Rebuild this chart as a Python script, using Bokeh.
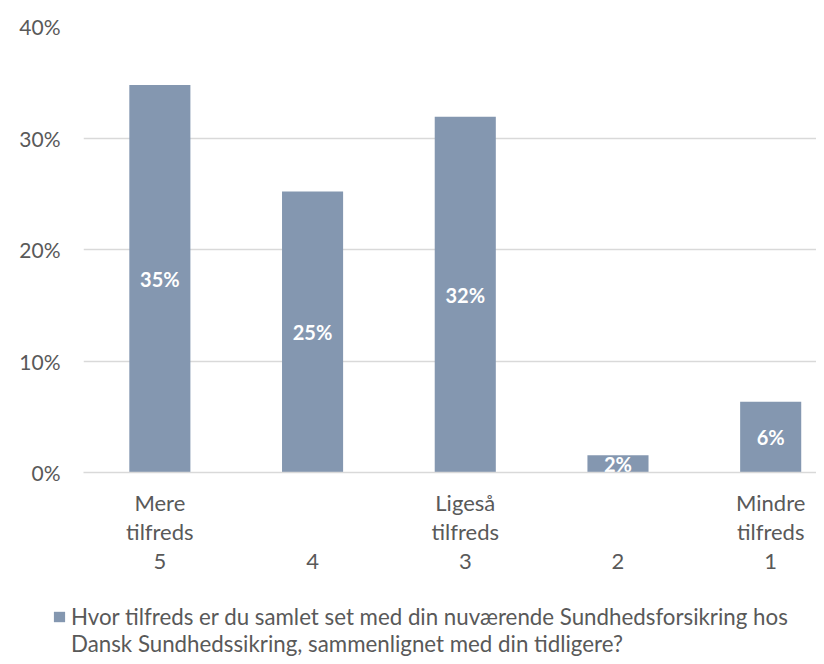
from bokeh.plotting import figure
from bokeh.layouts import column
from bokeh.models import (ColumnDataSource, FixedTicker, PrintfTickFormatter, Range1d,
                          Legend, LegendItem)
from bokeh.core.properties import value
from bokeh.embed import file_html
from bokeh.resources import INLINE

# ---- data ----
positions = [0, 1, 2, 3, 4]
cat_labels = ["Mere\ntilfreds\n5", "\n\n4", "Ligeså\ntilfreds\n3", "\n\n2", "Mindre\ntilfreds\n1"]
shares = [34.75, 25.2, 31.9, 1.55, 6.35]
y_ticks = [0, 10, 20, 30, 40]
legend_line1 = "Hvor tilfreds er du samlet set med din nuværende Sundhedsforsikring hos"
legend_line2 = "Dansk Sundhedssikring, sammenlignet med din tidligere?"

BAR = "#8497B0"
GRID = "#D9D9D9"
TXT = "#595959"
FONT = "Lato"
W = 816
H_MAIN, H_LEG = 590, 66
FRAME_LEFT = 83

src = ColumnDataSource(dict(
    x=positions,
    top=shares,
    mid=[v / 2 for v in shares],
    lab=[f"{round(v)}%" for v in shares],
))

p = figure(width=W, height=H_MAIN, output_backend="svg", toolbar_location=None,
           x_range=Range1d(-0.5, 4.30), y_range=Range1d(0, 40),
           min_border_left=FRAME_LEFT, min_border_right=0, min_border_top=26,
           min_border_bottom=H_MAIN - 472)
p.outline_line_color = None
p.background_fill_color = "white"
p.border_fill_color = "white"

p.vbar(x="x", top="top", width=0.40, bottom=0, source=src,
       fill_color=BAR, line_color=None)
p.text(x="x", y="mid", text="lab", source=src, text_color="white",
       text_font=value(FONT), text_font_style="bold", text_font_size="20px",
       text_align="center", text_baseline="middle")

# y axis
p.yaxis.ticker = FixedTicker(ticks=y_ticks)
p.yaxis.formatter = PrintfTickFormatter(format="%d%%")
p.yaxis.axis_line_color = None
p.yaxis.major_tick_line_color = None
p.yaxis.minor_tick_line_color = None
p.yaxis.major_tick_out = 0
p.yaxis.major_label_standoff = 23
p.yaxis.major_label_text_font = FONT
p.yaxis.major_label_text_font_size = "21px"
p.yaxis.major_label_text_color = TXT

# x axis
p.xaxis.ticker = FixedTicker(ticks=positions)
p.xaxis.major_label_overrides = {k: v for k, v in zip(positions, cat_labels)}
p.xaxis.axis_line_color = GRID
p.xaxis.axis_line_width = 1.5
p.xaxis.major_tick_line_color = None
p.xaxis.minor_tick_line_color = None
p.xaxis.major_tick_out = 0
p.xaxis.major_label_standoff = 16
p.xaxis.major_label_text_font = FONT
p.xaxis.major_label_text_font_size = "22px"
p.xaxis.major_label_text_color = TXT
p.xaxis.major_label_text_line_height = 1.08

p.xgrid.grid_line_color = None
p.ygrid.grid_line_color = GRID
p.ygrid.grid_line_width = 1.5

# legend strip below the chart (same bar series; its bars fall outside this strip's view)
pl = figure(width=W, height=H_LEG, output_backend="svg", toolbar_location=None,
            x_range=Range1d(10, 11), y_range=Range1d(100, 101),
            x_axis_type=None, y_axis_type=None,
            min_border_left=0, min_border_right=0, min_border_top=0, min_border_bottom=0)
pl.outline_line_color = None
pl.grid.visible = False
for fig in (p, pl):
    try:
        fig.frame_align = False
    except Exception:
        pass
legend_bar = pl.vbar(x="x", top="top", width=0.4, source=src,
                     fill_color=BAR, line_color=None)
# continuation line of the wrapped legend text (no swatch of its own)
legend_cont = pl.vbar(x="x", top="top", width=0.4, source=src,
                      fill_alpha=0, line_alpha=0)
leg = Legend(items=[LegendItem(label=legend_line1, renderers=[legend_bar]),
                    LegendItem(label=legend_line2, renderers=[legend_cont])],
             location=(52, -1), orientation="vertical",
             glyph_width=14, glyph_height=13, label_standoff=5,
             padding=0, margin=0, spacing=0,
             border_line_color=None, background_fill_alpha=0,
             label_text_font=FONT, label_text_font_size="22.3px", label_text_color=TXT,
             label_text_line_height=0.985)
pl.add_layout(leg, "center")

open("out.html", "w").write(file_html(column(p, pl, spacing=0), INLINE))
